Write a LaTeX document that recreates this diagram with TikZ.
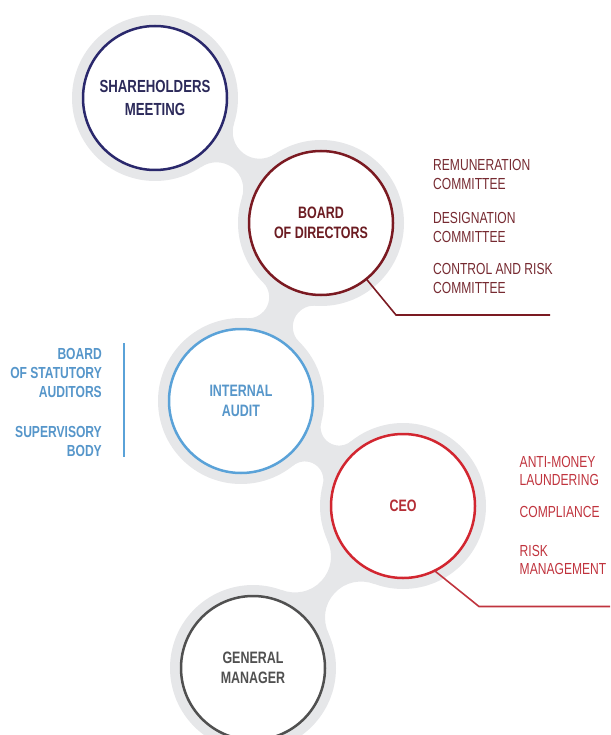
\documentclass[tikz,border=0pt]{standalone}
\usepackage{fontspec}
\setmainfont{Liberation Sans}[FakeStretch=0.755]
\usetikzlibrary{calc,backgrounds}

\definecolor{ringgray}{RGB}{230,231,233}
\definecolor{navyline}{RGB}{42,40,108}
\definecolor{navytext}{RGB}{44,42,90}
\definecolor{maroonline}{RGB}{123,26,34}
\definecolor{maroontext}{RGB}{108,28,34}
\definecolor{maroonside}{RGB}{118,42,49}
\definecolor{blueline}{RGB}{90,162,216}
\definecolor{bluetext}{RGB}{86,150,202}
\definecolor{redline}{RGB}{210,38,48}
\definecolor{redtext}{RGB}{180,46,54}
\definecolor{redside}{RGB}{192,52,62}
\definecolor{grayline}{RGB}{80,80,80}
\definecolor{graytext}{RGB}{80,80,80}

\tikzset{
  orgcircle/.style={circle, fill=white, line width=2.5pt, minimum size=144pt,
    inner sep=0pt, outer sep=0pt, align=center,
    font=\bfseries\fontsize{16.5}{20}\selectfont},
  sidelist/.style={inner sep=0pt, align=left, anchor=north west,
    font=\fontsize{16}{19}\selectfont},
  leader/.style={line width=1.6pt},
}

% gray neck joining the halos of two circles (#3 join angle, #4 neck half-width, #5 handle length)
\newcommand\halobridge[5]{%
  \coordinate (hbM) at ($(#1.center)!0.5!(#2.center)$);
  \coordinate (hbU) at ($(hbM)!#4!90:(#2.center)$);
  \coordinate (hbD) at ($(hbM)!#4!-90:(#2.center)$);
  \coordinate (hbP1) at ($(#1.center)!83pt!#3:(#2.center)$);
  \coordinate (hbP2) at ($(#2.center)!83pt!-#3:(#1.center)$);
  \coordinate (hbQ2) at ($(#2.center)!83pt!#3:(#1.center)$);
  \coordinate (hbQ1) at ($(#1.center)!83pt!-#3:(#2.center)$);
  \fill[ringgray] (hbP1)
    .. controls ($(hbP1)!#5!90:(#1.center)$) and ($(hbU)!#5!-90:(hbD)$) .. (hbU)
    .. controls ($(hbU)!#5!90:(hbD)$) and ($(hbP2)!#5!-90:(#2.center)$) .. (hbP2)
    -- (hbQ2)
    .. controls ($(hbQ2)!#5!90:(#2.center)$) and ($(hbD)!#5!-90:(hbU)$) .. (hbD)
    .. controls ($(hbD)!#5!90:(hbU)$) and ($(hbQ1)!#5!-90:(#1.center)$) .. (hbQ1)
    -- cycle;
}

\begin{document}
\begin{tikzpicture}[x=1pt, y=-1pt]
  \useasboundingbox (0,0) rectangle (610,735);
  \clip (0,0) rectangle (610,735);

  % the five bodies
  \node[orgcircle, draw=navyline, text=navytext,
        font=\bfseries\fontsize{17.5}{22.5}\selectfont] (sh) at (155,98) {SHAREHOLDERS\\MEETING};
  \node[orgcircle, draw=maroonline, text=maroontext] (bd) at (321,223) {BOARD\\OF DIRECTORS};
  \node[orgcircle, draw=blueline, text=bluetext] (ia) at (241,401) {INTERNAL\\AUDIT};
  \node[orgcircle, draw=redline, text=redtext] (ceo) at (403,506) {CEO};
  \node[orgcircle, draw=grayline, text=graytext] (gm) at (253,668) {GENERAL\\MANAGER};

  % gray halo behind the chain
  \begin{scope}[on background layer]
    \foreach \c in {sh,bd,ia,ceo,gm}
      \fill[ringgray] (\c.center) circle[radius=83pt];
    \halobridge{sh}{bd}{19.4}{9pt}{11.8pt}
    \halobridge{bd}{ia}{19.9}{15pt}{8.4pt}
    \halobridge{ia}{ceo}{18.3}{13pt}{8.2pt}
    \halobridge{ceo}{gm}{23}{9pt}{15.5pt}
  \end{scope}

  % board committees
  \node[sidelist, text=maroonside] (rem) at (433,159.5) {REMUNERATION\\COMMITTEE};
  \node[sidelist, text=maroonside] (des) at (433,212.5) {DESIGNATION\\COMMITTEE};
  \node[sidelist, text=maroonside] (crc) at (433,263) {CONTROL AND RISK\\COMMITTEE};
  \coordinate (bdKnee) at (396,315);
  \coordinate (bdEnd) at (550,315);
  \draw[leader, maroonline] (bd.-51) -- (bdKnee) -- (bdEnd);

  % control bodies
  \node[sidelist, anchor=north east, align=right, text=bluetext,
        font=\bfseries\fontsize{16}{19.3}\selectfont] (bsa) at (102,347.7) {BOARD\\OF STATUTORY\\AUDITORS};
  \node[sidelist, anchor=north east, align=right, text=bluetext,
        font=\bfseries\fontsize{16}{19.3}\selectfont] (sup) at (102,426) {SUPERVISORY\\BODY};
  \coordinate (stTop) at (124,343.3);
  \coordinate (stBot) at (124,456.7);
  \draw[leader, blueline] (stTop) -- (stBot);

  % functions reporting to the CEO
  \node[sidelist, text=redside, font=\fontsize{16}{18}\selectfont] (aml) at (519.5,456) {ANTI-MONEY\\LAUNDERING};
  \node[sidelist, text=redside] (cmp) at (519.5,505.7) {COMPLIANCE};
  \node[sidelist, text=redside, font=\fontsize{16}{18}\selectfont] (rsk) at (519.5,545) {RISK\\MANAGEMENT};
  \coordinate (ceoKnee) at (479,606.5);
  \coordinate (ceoEnd) at (610,606.5);
  \draw[leader, redside] (ceo.-64) -- (ceoKnee) -- (ceoEnd);
\end{tikzpicture}
\end{document}
